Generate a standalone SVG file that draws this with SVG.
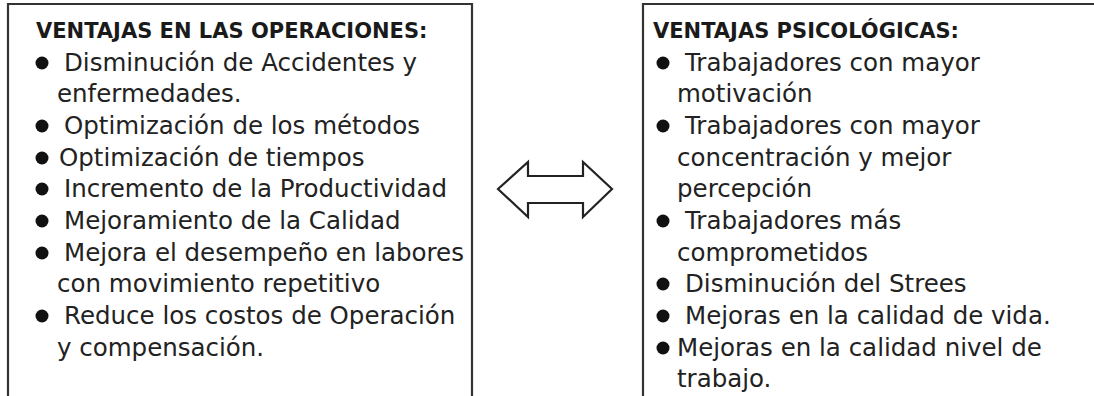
<svg xmlns="http://www.w3.org/2000/svg" width="1094" height="396" viewBox="0 0 1094 396">
<style>
.box{fill:none;stroke:#333;stroke-width:2.2}
.t{font-family:"DejaVu Sans",sans-serif;font-weight:bold;font-size:21px;fill:#1a1a1a}
.b{font-family:"DejaVu Sans",sans-serif;font-size:24.5px;fill:#222}
.dot{fill:#111}
.arrow{fill:#fff;stroke:#222;stroke-width:2.2;stroke-linejoin:miter}
</style>
<rect width="1094" height="396" fill="#fff"/>
<g id="left-box">
<path class="box" d="M8,400 V4 H472 V400"/>
<text class="t" x="36" y="38">VENTAJAS EN LAS OPERACIONES:</text>
<circle class="dot" cx="42" cy="63" r="6.5"/>
<text class="b" x="64" y="71">Disminución de Accidentes y</text>
<text class="b" x="57" y="102">enfermedades.</text>
<circle class="dot" cx="42" cy="126" r="6.5"/>
<text class="b" x="64" y="134">Optimización de los métodos</text>
<circle class="dot" cx="42" cy="158" r="6.5"/>
<text class="b" x="59" y="166">Optimización de tiempos</text>
<circle class="dot" cx="42" cy="189" r="6.5"/>
<text class="b" x="64" y="197">Incremento de la Productividad</text>
<circle class="dot" cx="42" cy="221" r="6.5"/>
<text class="b" x="64" y="229">Mejoramiento de la Calidad</text>
<circle class="dot" cx="42" cy="253" r="6.5"/>
<text class="b" x="64" y="261">Mejora el desempeño en labores</text>
<text class="b" x="57" y="292">con movimiento repetitivo</text>
<circle class="dot" cx="42" cy="316" r="6.5"/>
<text class="b" x="64" y="324">Reduce los costos de Operación</text>
<text class="b" x="57" y="356">y compensación.</text>
</g>
<g id="right-box">
<path class="box" d="M643,400 V4 H1100"/>
<text class="t" x="653" y="38">VENTAJAS PSICOLÓGICAS:</text>
<circle class="dot" cx="663" cy="63" r="6.5"/>
<text class="b" x="685" y="71">Trabajadores con mayor</text>
<text class="b" x="677" y="102">motivación</text>
<circle class="dot" cx="663" cy="126" r="6.5"/>
<text class="b" x="685" y="134">Trabajadores con mayor</text>
<text class="b" x="677" y="166">concentración y mejor</text>
<text class="b" x="677" y="197">percepción</text>
<circle class="dot" cx="663" cy="221" r="6.5"/>
<text class="b" x="685" y="229">Trabajadores más</text>
<text class="b" x="677" y="261">comprometidos</text>
<circle class="dot" cx="663" cy="284" r="6.5"/>
<text class="b" x="685" y="292">Disminución del Strees</text>
<circle class="dot" cx="663" cy="316" r="6.5"/>
<text class="b" x="685" y="324">Mejoras en la calidad de vida.</text>
<circle class="dot" cx="663" cy="348" r="6.5"/>
<text class="b" x="677" y="356">Mejoras en la calidad nivel de</text>
<text class="b" x="677" y="387">trabajo.</text>
</g>
<g id="connectors">
<path class="arrow" d="M498,189 L528,162 V176 H583 V162 L612,189 L583,217 V203 H528 V217 Z"/>
</g>
</svg>
